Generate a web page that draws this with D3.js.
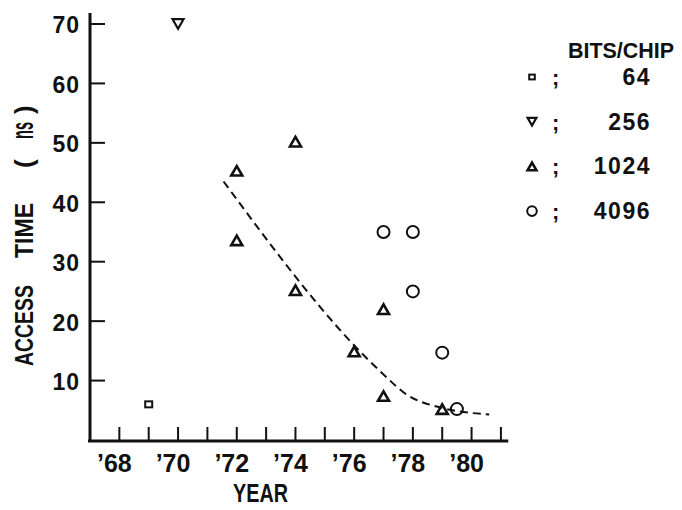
<!DOCTYPE html>
<html>
<head>
<meta charset="utf-8">
<script src="https://cdn.jsdelivr.net/npm/d3@7"></script>
<style>
  body { margin: 0; background: #fff; }
  text { font-family: "Liberation Sans", Arial, sans-serif; font-weight: bold; fill: #111; }
</style>
</head>
<body>
<svg id="chart" width="682" height="510"></svg>
<script>
// data
var years64 = [1969];
var time64 = [6];

var years256 = [1970];
var time256 = [70];

var years1024 = [1972, 1972, 1974, 1974, 1976, 1977, 1977, 1979];
var time1024 = [45.3, 33.6, 50.2, 25.2, 14.9, 22, 7.4, 5.2];

var years4096 = [1977, 1978, 1978, 1979, 1979.5];
var time4096 = [35, 35, 25, 14.7, 5.2];

// dashed trend line
var trendYears = [1971.55, 1976.9, 1977.8, 1979, 1980.6];
var trendTime = [43.5, 11.5, 7.6, 5.4, 4.3];

var yTicks = [10, 20, 30, 40, 50, 60, 70];
var xTicks = [1968, 1969, 1970, 1971, 1972, 1973, 1974, 1975, 1976, 1977, 1978, 1979, 1980, 1981];
var xLabels = [1968, 1970, 1972, 1974, 1976, 1978, 1980];

var legendNames = ["64", "256", "1024", "4096"];

var svg = d3.select("#chart");

var xScale = d3.scaleLinear()
  .domain([1967, 1981.5])
  .range([90, 515.6]);

var yScale = d3.scaleLinear()
  .domain([0, 72])
  .range([440, 12.1]);

// triangle centred on 0,0 (flip = pointing down)
function triPath(size, flip) {
  var h = size * 0.87;
  if (flip) return `M${-size / 2},${-h / 2}L${size / 2},${-h / 2}L0,${h / 2}Z`;
  return `M${-size / 2},${h / 2}L${size / 2},${h / 2}L0,${-h / 2}Z`;
}

function drawMarker(g, kind, big) {
  var s = big ? 1 : 0.8;
  if (kind == "64") {
    g.append("rect")
      .attr("x", -3.5 * s).attr("y", -3 * s)
      .attr("width", 7 * s).attr("height", 6 * s)
      .attr("fill", "none").attr("stroke", "#111").attr("stroke-width", 2);
  } else if (kind == "256") {
    g.append("path").attr("d", triPath(11 * s, true))
      .attr("fill", "none").attr("stroke", "#111").attr("stroke-width", 2.2);
  } else if (kind == "1024") {
    g.append("path").attr("d", triPath(11 * s, false))
      .attr("fill", "none").attr("stroke", "#111").attr("stroke-width", 2.6);
  } else {
    g.append("circle").attr("r", 6 * s)
      .attr("fill", "none").attr("stroke", "#111").attr("stroke-width", 2);
  }
}

// axes by hand: heavy lines with inward ticks
svg.append("line")
  .attr("x1", xScale(1967)).attr("x2", xScale(1967))
  .attr("y1", yScale(71.85)).attr("y2", 442)
  .attr("stroke", "#111").attr("stroke-width", 3);

svg.append("line")
  .attr("x1", 88).attr("x2", xScale(1981.25))
  .attr("y1", 441).attr("y2", 441)
  .attr("stroke", "#111").attr("stroke-width", 3);

svg.selectAll(".ytick")
  .data(yTicks)
  .enter()
  .append("line")
  .classed("ytick", true)
  .attr("x1", 90).attr("x2", 105)
  .attr("y1", d => yScale(d)).attr("y2", d => yScale(d))
  .attr("stroke", "#111").attr("stroke-width", 2);

svg.selectAll(".ylab")
  .data(yTicks)
  .enter()
  .append("text")
  .classed("ylab", true)
  .attr("x", 80)
  .attr("y", d => yScale(d) + 9.5)
  .attr("text-anchor", "end")
  .style("font-size", "23px")
  .style("letter-spacing", "1px")
  .text(d => d);

svg.selectAll(".xtick")
  .data(xTicks)
  .enter()
  .append("line")
  .classed("xtick", true)
  .attr("x1", d => xScale(d)).attr("x2", d => xScale(d))
  .attr("y1", 441).attr("y2", 427)
  .attr("stroke", "#111").attr("stroke-width", 2);

svg.selectAll(".xlab")
  .data(xLabels)
  .enter()
  .append("text")
  .classed("xlab", true)
  .attr("x", d => xScale(d) - 5)
  .attr("y", 472)
  .attr("text-anchor", "middle")
  .style("font-size", "25px")
  .text(d => "\u2019" + String(d).slice(2));

// axis titles
svg.append("text")
  .attr("x", 233).attr("y", 502)
  .attr("textLength", 55)
  .attr("lengthAdjust", "spacingAndGlyphs")
  .style("font-size", "25px")
  .text("YEAR");

// y title in pieces, so the wide gaps match
var yTitleParts = [
  { t: "ACCESS", start: 366, len: 81, size: 26 },
  { t: "TIME", start: 258, len: 55, size: 26 },
  { t: "(", start: 168, len: 0, size: 26 },
  { t: "ns", start: 139, len: 17, size: 31 },
  { t: ")", start: 114, len: 0, size: 26 }
];
yTitleParts.forEach(function(p) {
  var t = svg.append("text")
    .attr("transform", `translate(33,${p.start}) rotate(-90)`)
    .style("font-size", p.size + "px")
    .text(p.t);
  if (p.len > 0) {
    t.attr("textLength", p.len).attr("lengthAdjust", "spacingAndGlyphs");
  }
});

// trend line
var line = d3.line()
  .x(d => xScale(d[0]))
  .y(d => yScale(d[1]))
  .curve(d3.curveMonotoneX);

svg.append("path")
  .datum(d3.zip(trendYears, trendTime))
  .attr("d", line)
  .attr("fill", "none")
  .attr("stroke", "#111")
  .attr("stroke-width", 2)
  .attr("stroke-dasharray", "8,5");

// points
var series = [
  { name: "64", xs: years64, ys: time64 },
  { name: "256", xs: years256, ys: time256 },
  { name: "1024", xs: years1024, ys: time1024 },
  { name: "4096", xs: years4096, ys: time4096 }
];

series.forEach(function(s) {
  d3.zip(s.xs, s.ys).forEach(function(p) {
    var g = svg.append("g")
      .attr("transform", `translate(${xScale(p[0])},${yScale(p[1])})`);
    drawMarker(g, s.name, true);
  });
});

// legend
svg.append("text")
  .attr("x", 568).attr("y", 58)
  .attr("textLength", 106)
  .attr("lengthAdjust", "spacingAndGlyphs")
  .style("font-size", "22.5px")
  .text("BITS/CHIP");

legendNames.forEach(function(name, i) {
  var y = 85 + i * 44.7;
  var g = svg.append("g").attr("transform", `translate(532,${y - 8})`);
  drawMarker(g, name, false);
  svg.append("text")
    .attr("x", 552).attr("y", y)
    .style("font-size", "22px")
    .text(";");
  svg.append("text")
    .attr("x", 651).attr("y", y)
    .attr("text-anchor", "end")
    .style("font-size", "23px")
    .style("letter-spacing", "1.5px")
    .text(name);
});
</script>
</body>
</html>
